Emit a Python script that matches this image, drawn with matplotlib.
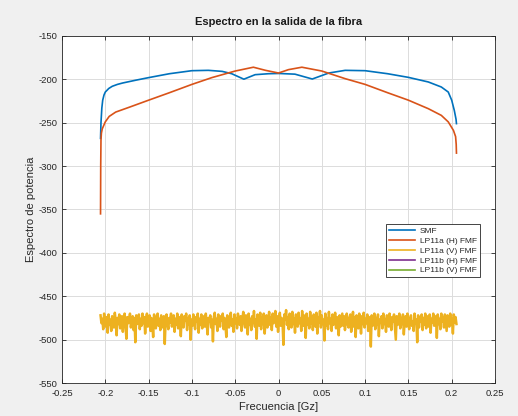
import numpy as np
import matplotlib
matplotlib.use("Agg")
import matplotlib.pyplot as plt

plt.rcParams['font.family'] = ['Liberation Sans', 'DejaVu Sans']

# SMF spectrum (blue)
smf_x = [-0.2055, -0.2050, -0.2040, -0.2030, -0.2015, -0.2000, -0.1960, -0.1920, -0.1860,
         -0.1800, -0.1650, -0.1500, -0.1260, -0.1000, -0.0810, -0.0650, -0.0540, -0.0400,
         -0.0270, -0.0115, 0.0000, 0.0190, 0.0390, 0.0580, 0.0770, 0.1000, 0.1260,
         0.1500, 0.1730, 0.1880, 0.1960, 0.2000, 0.2030, 0.2050, 0.2055]
smf_y = [-268, -250, -233, -224, -218, -214.6, -210.5, -208, -205.8,
         -204.2, -201, -198, -193.5, -190, -189.6, -190.8, -193.5, -199.8,
         -194.6, -193.5, -193.2, -194, -199.6, -192.7, -189.6, -190, -193.5,
         -197.7, -203, -208.8, -214.6, -224, -235.8, -246, -251]

# LP11a (H) FMF spectrum (orange)
lp11a_h_x = [-0.2055, -0.2053, -0.2050, -0.2045, -0.2035, -0.2000, -0.1955, -0.1880,
             -0.1720, -0.1500, -0.1260, -0.1000, -0.0770, -0.0500, -0.0290, -0.0150,
             0.0000, 0.0115, 0.0270, 0.0500, 0.0770, 0.1000, 0.1260, 0.1500, 0.1730,
             0.1880, 0.1960, 0.2020, 0.2045, 0.2052, 0.2055]
lp11a_h_y = [-355, -300, -270, -262, -257, -249, -242.7, -237.7,
             -232, -224, -215.4, -205.8, -198, -190.4, -186, -189.6,
             -192.7, -188.8, -186, -190.4, -199.2, -205.8, -215.4, -224, -233.8,
             -241.5, -249, -258.8, -266, -275, -285]

# LP11a (V) FMF spectrum (yellow, noise floor)
lp11a_v_y = [
    -472, -481, -476, -488, -470, -479, -485, -474, -492, -471, -483, -477, -490, -473, -480, -486,
    -469, -478, -495, -475, -482, -471, -487, -479, -473, -491, -476, -470, -484, -499, -474, -481,
    -477, -470, -486, -480, -473, -489, -475, -503, -472, -482, -478, -471, -488, -476, -484, -470,
    -481, -474, -493, -477, -470, -485, -479, -472, -490, -475, -483, -497, -471, -480, -487, -474,
    -470, -484, -476, -489, -472, -479, -486, -473, -505, -477, -471, -482, -488, -475, -480, -470,
    -485, -478, -472, -491, -476, -483, -470, -487, -479, -474, -496, -471, -481, -486, -473, -478,
    -470, -489, -475, -482, -472, -500, -477, -484, -471, -480, -488, -474, -479, -470, -492, -476,
    -483, -471, -487, -478, -473, -485, -470, -481, -494, -475, -479, -472, -486, -477, -502, -474,
    -469, -482, -476, -490, -471, -480, -485, -473, -478, -470, -488, -475, -483, -497, -472, -479,
    -486, -474, -469, -484, -477, -491, -471, -481, -475, -487, -470, -479, -483, -473, -490, -476,
    -468, -480, -486, -472, -478, -494, -470, -483, -476, -489, -473, -481, -467, -485, -477, -499,
    -471, -479, -484, -469, -488, -475, -482, -470, -493, -477, -472, -486, -479, -468, -483, -474,
    -489, -470, -481, -476, -467, -485, -473, -491, -478, -469, -484, -475, -480, -506, -471, -477,
    -466, -483, -474, -488, -470, -479, -486, -468, -482, -475, -492, -471, -478, -485, -469, -481,
    -476, -490, -467, -484, -472, -479, -498, -470, -483, -476, -487, -468, -481, -474, -489, -471,
    -478, -485, -469, -493, -474, -480, -467, -486, -472, -482, -477, -501, -470, -484, -475, -488,
    -468, -481, -476, -490, -471, -483, -479, -469, -487, -474, -480, -495, -472, -485, -477, -470,
    -484, -473, -489, -478, -470, -482, -486, -475, -471, -491, -479, -468, -485, -474, -497, -472,
    -480, -487, -470, -477, -493, -473, -482, -469, -486, -476, -481, -471, -490, -478, -474, -508,
    -472, -484, -479, -470, -488, -475, -483, -471, -496, -477, -480, -473, -487, -470, -482, -476,
    -491, -472, -478, -485, -470, -481, -489, -474, -479, -471, -486, -500, -473, -483, -476, -470,
    -487, -475, -482, -471, -494, -478, -473, -485, -470, -480, -488, -476, -472, -484, -479, -490,
    -470, -481, -477, -503, -472, -486, -474, -479, -471, -489, -475, -483, -470, -487, -478, -473,
    -485, -471, -492, -476, -480, -470, -484, -478, -473, -498, -471, -482, -476, -488, -470, -479,
    -474, -486, -471, -481, -490, -472, -477, -485, -470, -483, -476, -493, -471, -480, -474, -482,
]
freq_start, freq_end = -0.2055, 0.2055
lp11a_v_x = np.linspace(freq_start, freq_end, len(lp11a_v_y))

# LP11b series (not visible in plot)
lp11b_h_x, lp11b_h_y = [], []
lp11b_v_x, lp11b_v_y = [], []

labels = ['SMF', 'LP11a (H) FMF', 'LP11a (V) FMF', 'LP11b (H) FMF', 'LP11b (V) FMF']
colors = ['#0072BD', '#D95319', '#EDB120', '#7E2F8E', '#77AC30']

xticks = [-0.25, -0.2, -0.15, -0.1, -0.05, 0, 0.05, 0.1, 0.15, 0.2, 0.25]
xticklabels = ['-0.25', '-0.2', '-0.15', '-0.1', '-0.05', '0', '0.05', '0.1', '0.15', '0.2', '0.25']
yticks = [-550, -500, -450, -400, -350, -300, -250, -200, -150]

fig = plt.figure(figsize=(5.18, 4.16), dpi=100, facecolor='#f0f0f0')
ax = fig.add_axes([0.1197, 0.0793, 0.8359, 0.8342])
ax.set_facecolor('white')

lw = 1.2
ax.plot(smf_x, smf_y, color=colors[0], lw=lw, label=labels[0], zorder=3)
ax.plot(lp11a_h_x, lp11a_h_y, color=colors[1], lw=lw, label=labels[1], zorder=3)
ax.plot(lp11b_h_x, lp11b_h_y, color=colors[3], lw=lw, label=labels[3], zorder=2)
ax.plot(lp11b_v_x, lp11b_v_y, color=colors[4], lw=lw, label=labels[4], zorder=2)
ax.plot(lp11a_v_x, lp11a_v_y, color=colors[2], lw=1.8, label=labels[2], zorder=3,
        solid_joinstyle='round')

ax.set_xlim(-0.25, 0.25)
ax.set_ylim(-550, -150)
ax.set_xticks(xticks)
ax.set_xticklabels(xticklabels)
ax.set_yticks(yticks)
ax.set_yticklabels([str(v) for v in yticks])

ax.grid(True, color='#dcdcdc', lw=0.7)
ax.set_axisbelow(True)
ax.tick_params(direction='in', length=3, width=0.6, colors='#262626', labelsize=6.8,
               top=True, right=True)
ax.tick_params(axis='x', pad=4)
ax.tick_params(axis='y', pad=3)
for sp in ax.spines.values():
    sp.set_color('#262626')
    sp.set_linewidth(0.6)

ax.set_title('Espectro en la salida de la fibra', fontsize=8, fontweight='bold',
             color='#1a1a1a', pad=8)
ax.set_xlabel('Frecuencia [Gz]', fontsize=8, color='#262626', labelpad=3)
ax.set_ylabel('Espectro de potencia', fontsize=8, color='#262626', labelpad=2)

handles, labs = ax.get_legend_handles_labels()
order = [labs.index(l) for l in labels]
leg = ax.legend([handles[i] for i in order], [labs[i] for i in order],
                loc='upper left', bbox_to_anchor=(0.748, 0.458), fontsize=6,
                frameon=True, fancybox=False, edgecolor='#262626', framealpha=1,
                borderpad=0.35, labelspacing=0.25, handlelength=3.2, handletextpad=0.5,
                borderaxespad=0)
leg.get_frame().set_linewidth(0.6)
for h in leg.get_lines():
    h.set_linewidth(1.2)
for t in leg.get_texts():
    t.set_color('#262626')

fig.savefig('out.png', dpi=100, facecolor=fig.get_facecolor())
